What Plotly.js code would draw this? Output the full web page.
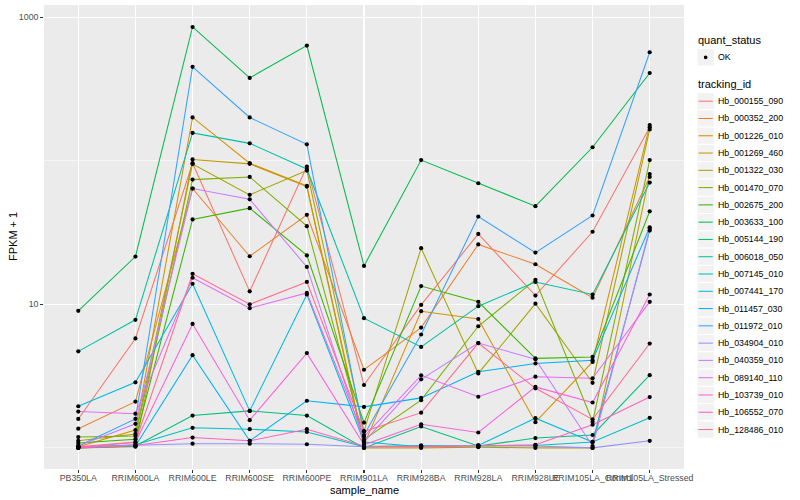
<!DOCTYPE html>
<html>
<head>
<meta charset="utf-8">
<script src="https://cdn.plot.ly/plotly-3.0.1.min.js"></script>
<style>html,body{margin:0;padding:0;background:#fff;}#chart{width:800px;height:500px;}</style>
</head>
<body>
<div id="chart"></div>
<script>
// ---- data (FPKM + 1) ----
const samples = ['PB350LA','RRIM600LA','RRIM600LE','RRIM600SE','RRIM600PE','RRIM901LA','RRIM928BA','RRIM928LA','RRIM928LE','RRIM105LA_Control','RRIM105LA_Stressed'];
const trackingIds = ['Hb_000155_090','Hb_000352_200','Hb_001226_010','Hb_001269_460','Hb_001322_030','Hb_001470_070','Hb_002675_200','Hb_003633_100','Hb_005144_190','Hb_006018_050','Hb_007145_010','Hb_007441_170','Hb_011457_030','Hb_011972_010','Hb_034904_010','Hb_040359_010','Hb_089140_110','Hb_103739_010','Hb_106552_070','Hb_128486_010'];
const Hb_000155_090 = [1.59, 5.78, 96, 12.3, 91, 2.74, 9.9, 30.9, 11.5, 32, 171];
const Hb_000352_200 = [1.36, 2.1, 64, 21.6, 42, 3.5, 6.88, 26.1, 19.0, 11.1, 77];
const Hb_001226_010 = [1.02, 1.33, 200, 96, 66.7, 1.05, 8.95, 7.9, 1.51, 3.97, 177];
const Hb_001269_460 = [1.0, 1.02, 102, 95, 66, 1.0, 1.0, 1.01, 1.0, 1.0, 80.7];
const Hb_001322_030 = [1.12, 1.25, 94.9, 57.8, 85.3, 1.31, 24.6, 3.3, 10.1, 2.84, 165];
const Hb_001470_070 = [1.19, 1.21, 73.8, 77, 35, 1.14, 2.15, 7.03, 14.8, 1.52, 101];
const Hb_002675_200 = [1.08, 1.15, 39, 46.7, 21.9, 1.5, 13.4, 10.4, 4.2, 4.3, 44.4];
const Hb_003633_100 = [9.0, 21.5, 853, 377, 633, 18.5, 101, 69.6, 48.2, 124, 408];
const Hb_005144_190 = [1.0, 1.03, 1.68, 1.81, 1.68, 1.0, 1.41, 1.03, 1.17, 1.23, 3.21];
const Hb_006018_050 = [4.7, 7.8, 156, 132, 87.5, 8.0, 5.05, 9.7, 14.3, 11.7, 70.4];
const Hb_007145_010 = [1.01, 1.05, 1.38, 1.35, 1.29, 1.02, 1.04, 1.03, 1.04, 1.1, 1.62];
const Hb_007441_170 = [1.95, 2.86, 13.9, 1.81, 11.7, 1.1, 1.02, 1.04, 1.61, 1.1, 32.6];
const Hb_011457_030 = [1.02, 1.03, 4.42, 1.12, 2.13, 1.93, 2.23, 3.39, 3.87, 4.08, 34.4];
const Hb_011972_010 = [1.03, 1.59, 450, 200, 130, 1.23, 6.16, 40.8, 22.9, 41.5, 569];
const Hb_034904_010 = [1.02, 1.04, 1.07, 1.07, 1.06, 1.02, 1.03, 1.04, 1.03, 1.0, 1.12];
const Hb_040359_010 = [1.03, 1.47, 64, 53.8, 18.2, 1.1, 3.0, 5.37, 4.14, 1.03, 33.6];
const Hb_089140_110 = [1.79, 1.73, 15.3, 9.4, 12.0, 1.2, 3.2, 2.27, 3.13, 3.05, 10.4];
const Hb_103739_010 = [1.01, 1.09, 7.3, 1.56, 4.57, 1.05, 1.46, 1.28, 2.66, 2.07, 11.7];
const Hb_106552_070 = [1.0, 1.04, 1.18, 1.12, 1.35, 1.03, 1.02, 1.03, 1.05, 1.45, 2.26];
const Hb_128486_010 = [1.02, 1.1, 16.3, 10.0, 14.3, 1.3, 1.76, 5.37, 2.6, 1.58, 5.33];
const seriesValues = [Hb_000155_090, Hb_000352_200, Hb_001226_010, Hb_001269_460, Hb_001322_030, Hb_001470_070, Hb_002675_200, Hb_003633_100, Hb_005144_190, Hb_006018_050, Hb_007145_010, Hb_007441_170, Hb_011457_030, Hb_011972_010, Hb_034904_010, Hb_040359_010, Hb_089140_110, Hb_103739_010, Hb_106552_070, Hb_128486_010];
const quantStatus = ['OK'];
const yTickVals = [10, 1000];
const yTickText = ['10', '1000'];
const yMinorVals = [1, 100];

// ---- style ----
const colors = ['#F8766D','#EA8331','#D89000','#C09B00','#A3A500','#7CAE00','#39B600','#00BB4E','#00BF7D','#00C1A3','#00BFC4','#00BAE0','#00B0F6','#35A2FF','#9590FF','#C77CFF','#E76BF3','#FA62DB','#FF62BC','#FF6C91'];
const FONT = 'Liberation Sans, Arial, Helvetica, sans-serif';

const traces = [];
trackingIds.forEach((id, i) => {
  traces.push({
    type: 'scatter', mode: 'lines', name: id, x: samples, y: seriesValues[i],
    line: {color: colors[i], width: 1.05}, showlegend: false, hoverinfo: 'name+y'
  });
});
const px = [], py = [];
seriesValues.forEach(v => { v.forEach((val, j) => { px.push(samples[j]); py.push(val); }); });
traces.push({
  type: 'scatter', mode: 'markers', name: quantStatus[0], x: px, y: py,
  marker: {color: '#000000', size: 4.2}, showlegend: false
});

// ---- manual ggplot-like legend and axis titles (paper coords) ----
const PL = 44, PR = 684, PT = 5, PB = 469;
const toX = x => (x - PL) / (PR - PL);
const toY = y => (PB - y) / (PB - PT);
const shapes = [], annotations = [];
function keyBox(cy) {
  shapes.push({type: 'rect', xref: 'paper', yref: 'paper', x0: toX(697), x1: toX(714.3), y0: toY(cy - 8.64), y1: toY(cy + 8.64),
    fillcolor: '#F2F2F2', line: {color: '#FFFFFF', width: 1}, layer: 'above'});
}
annotations.push({xref: 'paper', yref: 'paper', x: toX(696), y: toY(40.5), text: 'quant_status', showarrow: false,
  xanchor: 'left', yanchor: 'middle', font: {family: FONT, size: 11, color: '#000'}});
keyBox(57.3);
shapes.push({type: 'circle', xref: 'paper', yref: 'paper', x0: toX(703.8), x1: toX(707.5), y0: toY(55.5), y1: toY(59.2),
  fillcolor: '#000', line: {color: '#000', width: 0}, layer: 'above'});
annotations.push({xref: 'paper', yref: 'paper', x: toX(716), y: toY(57.3), text: quantStatus[0], showarrow: false,
  xanchor: 'left', yanchor: 'middle', font: {family: FONT, size: 8.8, color: '#000'}});
annotations.push({xref: 'paper', yref: 'paper', x: toX(696), y: toY(84), text: 'tracking_id', showarrow: false,
  xanchor: 'left', yanchor: 'middle', font: {family: FONT, size: 11, color: '#000'}});
trackingIds.forEach((id, i) => {
  const cy = 101.2 + 17.28 * i;
  keyBox(cy);
  shapes.push({type: 'line', xref: 'paper', yref: 'paper', x0: toX(698.5), x1: toX(712.8), y0: toY(cy), y1: toY(cy),
    line: {color: colors[i], width: 1.05}, layer: 'above'});
  annotations.push({xref: 'paper', yref: 'paper', x: toX(716), y: toY(cy), text: id, showarrow: false,
    xanchor: 'left', yanchor: 'middle', font: {family: FONT, size: 8.8, color: '#000'}});
});
// axis titles
annotations.push({xref: 'paper', yref: 'paper', x: toX(364), y: toY(490), text: 'sample_name', showarrow: false,
  xanchor: 'center', yanchor: 'middle', font: {family: FONT, size: 11, color: '#000'}});
annotations.push({xref: 'paper', yref: 'paper', x: toX(13), y: toY(237), text: 'FPKM + 1', showarrow: false, textangle: -90,
  xanchor: 'center', yanchor: 'middle', font: {family: FONT, size: 11, color: '#000'}});

const layout = {
  width: 800, height: 500,
  margin: {l: PL, r: 800 - PR, t: PT, b: 500 - PB, pad: 0},
  paper_bgcolor: '#FFFFFF', plot_bgcolor: '#EBEBEB',
  font: {family: FONT, color: '#000'},
  showlegend: false,
  xaxis: {
    type: 'category', categoryorder: 'array', categoryarray: samples,
    range: [-0.6, samples.length - 0.4], showgrid: true, gridcolor: '#FFFFFF', gridwidth: 1.07,
    zeroline: false, showline: false, ticks: 'outside', ticklen: 2.8, tickwidth: 1.07, tickcolor: '#333333',
    tickangle: 0, ticklabelstandoff: -2, tickfont: {family: FONT, size: 8.8, color: '#4D4D4D'},
    automargin: false, fixedrange: true
  },
  yaxis: {
    type: 'log', range: [-0.147, 3.084],
    tickmode: 'array', tickvals: yTickVals, ticktext: yTickText,
    showgrid: true, gridcolor: '#FFFFFF', gridwidth: 1.07, zeroline: false, showline: false,
    ticks: 'outside', ticklen: 2.8, tickwidth: 1.07, tickcolor: '#333333',
    tickfont: {family: FONT, size: 8.8, color: '#4D4D4D'},
    minor: {tickmode: 'array', tickvals: yMinorVals, showgrid: true, gridcolor: '#FFFFFF', gridwidth: 0.53, ticks: ''},
    automargin: false, fixedrange: true
  },
  shapes: shapes,
  annotations: annotations
};

Plotly.newPlot('chart', traces, layout, {displayModeBar: false, staticPlot: true});
</script>
</body>
</html>
